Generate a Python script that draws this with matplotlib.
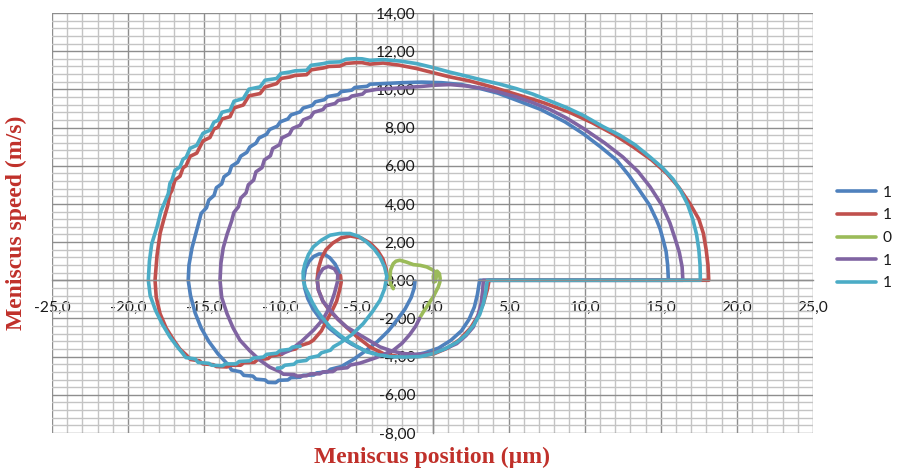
import matplotlib
matplotlib.use("Agg")
import matplotlib.pyplot as plt
from matplotlib.ticker import MultipleLocator, FuncFormatter

# ---- series: (meniscus position in µm, meniscus speed in m/s) ----
labels = ["1", "1", "0", "1", "1"]
colors = ["#4F81BD", "#C0504D", "#9BBB59", "#8064A2", "#4BACC6"]

blue_pts = [
    (-6.05, 0.0), (-6.15, 0.45), (-6.4, 0.85), (-6.75, 1.18), (-7.1, 1.36), (-7.45, 1.38),
    (-7.8, 1.25), (-8.1, 1.0), (-8.35, 0.6), (-8.45, 0.1), (-8.4, -0.4), (-8.2, -0.95),
    (-7.85, -1.5), (-7.4, -2.0), (-6.8, -2.5), (-6.1, -2.95), (-5.3, -3.35), (-4.4, -3.7),
    (-3.5, -3.9), (-2.5, -4.0), (-1.5, -3.97), (-0.5, -3.8), (0.4, -3.55), (1.2, -3.15),
    (1.9, -2.65), (2.4, -2.05), (2.75, -1.4), (2.95, -0.75), (3.05, -0.25), (3.1, 0.0),
    (15.5, 0.0), (15.45, 0.8), (15.35, 1.5), (15.16, 2.1), (14.95, 2.7), (14.73, 3.14),
    (14.25, 3.95), (13.6, 4.71), (12.9, 5.5), (12.1, 6.29), (11.1, 6.95), (9.9, 7.68),
    (8.7, 8.3), (7.1, 8.95), (5.53, 9.43), (4.3, 9.8), (3.1, 10.05), (1.9, 10.25),
    (0.6, 10.35), (-0.7, 10.38), (-2.0, 10.35), (-3.3, 10.3), (-4.1, 10.27), (-4.3, 10.16),
    (-5.1, 10.1), (-5.3, 9.96), (-6.0, 9.88), (-6.2, 9.72), (-6.9, 9.62), (-7.1, 9.46),
    (-7.7, 9.35), (-7.9, 9.16), (-8.5, 9.02), (-8.7, 8.82), (-9.3, 8.66), (-9.5, 8.45),
    (-10.0, 8.3), (-10.2, 8.07), (-10.7, 7.9), (-10.9, 7.65), (-11.4, 7.45), (-11.6, 7.18),
    (-12.0, 6.98), (-12.2, 6.7), (-12.6, 6.5), (-12.8, 6.18), (-13.2, 5.98), (-13.35, 5.62),
    (-13.7, 5.42), (-13.85, 5.05), (-14.2, 4.85), (-14.35, 4.45), (-14.7, 4.2), (-14.85, 3.8),
    (-15.2, 3.5), (-15.5, 2.6), (-15.8, 1.7), (-16.0, 0.8), (-16.05, 0.0), (-15.9, -0.8),
    (-15.6, -1.7), (-15.2, -2.5), (-14.7, -3.2), (-14.1, -3.85), (-13.4, -4.45), (-13.2, -4.7),
    (-12.6, -4.8), (-12.4, -4.98), (-11.8, -5.02), (-11.6, -5.18), (-11.0, -5.22),
    (-10.8, -5.35), (-10.3, -5.36), (-10.1, -5.24), (-9.5, -5.22), (-9.3, -5.1), (-8.7, -5.08),
    (-8.5, -4.98), (-7.8, -4.96), (-7.6, -4.85), (-6.9, -4.8), (-6.7, -4.66), (-6.0, -4.52),
    (-5.2, -4.15), (-4.4, -3.7), (-3.6, -3.2), (-2.9, -2.65), (-2.3, -2.05), (-1.8, -1.5),
    (-1.4, -0.9), (-1.2, -0.4), (-1.15, -0.05),
]

red_pts = [
    (-2.95, 0.1), (-3.05, 0.6), (-3.25, 1.1), (-3.6, 1.55), (-4.1, 1.95), (-4.7, 2.22),
    (-5.4, 2.32), (-6.0, 2.22), (-6.55, 1.95), (-7.0, 1.6), (-7.3, 1.15), (-7.5, 0.6),
    (-7.58, 0.05), (-7.5, -0.5), (-7.2, -1.1), (-6.75, -1.6), (-6.2, -2.05), (-5.6, -2.5),
    (-4.9, -3.0), (-4.1, -3.5), (-3.2, -3.85), (-2.2, -4.0), (-1.0, -4.0), (0.1, -3.85),
    (1.0, -3.55), (1.8, -3.1), (2.5, -2.5), (3.0, -1.85), (3.35, -1.2), (3.6, -0.5),
    (3.72, 0.0), (18.15, 0.0), (18.1, 0.8), (17.98, 1.6), (17.8, 2.45), (17.5, 3.2),
    (16.9, 4.03), (16.2, 4.85), (15.4, 5.59), (14.4, 6.3), (13.2, 6.98), (11.9, 7.65),
    (10.5, 8.25), (9.0, 8.8), (7.3, 9.3), (5.5, 9.74), (3.8, 10.15), (2.4, 10.45),
    (1.15, 10.65), (-0.1, 10.9), (-1.04, 11.09), (-2.2, 11.27), (-3.25, 11.38),
    (-4.11, 11.32), (-4.63, 11.4), (-4.98, 11.4), (-5.68, 11.36), (-6.08, 11.22),
    (-6.8, 11.2), (-7.17, 11.12), (-7.98, 11.02), (-8.27, 10.77), (-9.03, 10.73),
    (-9.36, 10.65), (-9.95, 10.57), (-10.24, 10.3), (-11.0, 10.12), (-11.33, 9.78),
    (-12.06, 9.66), (-12.43, 9.18), (-13.04, 9.03), (-13.3, 8.57), (-13.83, 8.45),
    (-14.09, 8.02), (-14.36, 7.92), (-14.62, 7.48), (-15.08, 7.3), (-15.49, 6.66),
    (-15.93, 6.49), (-16.19, 6.0), (-16.39, 5.89), (-16.59, 5.45), (-16.92, 5.25),
    (-17.12, 4.7), (-17.25, 4.52), (-17.4, 3.9), (-17.65, 3.2), (-17.9, 2.45), (-18.1, 1.3),
    (-18.23, 0.0), (-18.15, -0.9), (-17.9, -1.75), (-17.5, -2.5), (-17.0, -3.14),
    (-16.6, -3.6), (-16.15, -3.93), (-15.9, -4.15), (-15.3, -4.22), (-15.1, -4.38),
    (-14.4, -4.42), (-14.2, -4.52), (-13.5, -4.54), (-13.3, -4.45), (-12.6, -4.45),
    (-12.4, -4.32), (-11.7, -4.3), (-11.5, -4.16), (-10.8, -4.1), (-10.6, -3.96),
    (-9.9, -3.88), (-9.7, -3.72), (-9.0, -3.6), (-8.8, -3.45), (-8.1, -3.28), (-7.83, -3.14),
    (-7.3, -2.65), (-6.95, -2.1), (-6.6, -1.6), (-6.3, -1.1), (-6.1, -0.5), (-6.0, -0.1),
    (-6.05, 0.25),
]

green_pts = [
    (-0.82, -1.95), (-0.6, -1.65), (-0.38, -1.4), (-0.15, -1.1), (0.05, -0.87), (0.25, -0.55),
    (0.38, -0.35), (0.48, -0.1), (0.5, 0.1), (0.45, 0.35), (0.3, 0.48), (0.15, 0.42),
    (0.05, 0.2), (0.08, -0.1), (0.2, -0.05), (0.28, 0.35), (0.0, 0.55), (-0.38, 0.7),
    (-0.8, 0.78), (-1.26, 0.82), (-1.7, 0.95), (-2.14, 1.05), (-2.4, 1.0), (-2.58, 0.87),
    (-2.75, 0.55), (-2.8, 0.2), (-2.75, -0.2), (-2.58, -0.44),
]

purple_pts = [
    (-9.9, -3.85), (-9.36, -3.67), (-8.6, -3.2), (-7.8, -2.6), (-7.2, -2.05), (-6.75, -1.4),
    (-6.45, -0.7), (-6.25, -0.1), (-6.22, 0.3), (-6.45, 0.6), (-6.85, 0.73), (-7.2, 0.6),
    (-7.45, 0.3), (-7.57, 0.0), (-7.5, -0.5), (-7.2, -1.1), (-6.73, -1.57), (-6.2, -2.05),
    (-5.64, -2.45), (-4.55, -2.97), (-3.45, -3.49), (-2.7, -3.7), (-1.92, -3.84),
    (-1.0, -3.88), (-0.16, -3.84), (0.8, -3.6), (1.59, -3.32), (2.2, -2.9), (2.68, -2.45),
    (3.0, -1.8), (3.2, -1.2), (3.3, -0.5), (3.34, 0.0), (16.45, 0.0), (16.4, 0.7),
    (16.22, 1.45), (15.95, 2.15), (15.6, 3.0), (15.1, 3.9), (14.3, 4.89), (13.5, 5.7),
    (12.5, 6.46), (11.3, 7.2), (9.9, 7.96), (8.8, 8.5), (7.7, 8.95), (6.6, 9.3), (5.53, 9.6),
    (4.4, 9.85), (3.3, 10.05), (2.2, 10.18), (1.15, 10.25), (0.2, 10.22), (-0.8, 10.15),
    (-1.7, 10.1), (-2.6, 10.05), (-3.67, 10.0), (-4.4, 9.9), (-4.6, 9.75), (-5.3, 9.65),
    (-5.5, 9.52), (-6.2, 9.42), (-6.4, 9.26), (-7.0, 9.14), (-7.2, 8.94), (-7.8, 8.8),
    (-8.0, 8.56), (-8.5, 8.4), (-8.7, 8.12), (-9.2, 7.95), (-9.4, 7.65), (-9.9, 7.45),
    (-10.05, 7.1), (-10.5, 6.9), (-10.65, 6.52), (-11.05, 6.3), (-11.2, 5.9), (-11.6, 5.68),
    (-11.75, 5.25), (-12.1, 5.0), (-12.25, 4.58), (-12.6, 4.3), (-12.75, 3.85),
    (-13.05, 3.55), (-13.2, 3.1), (-13.5, 2.4), (-13.75, 1.7), (-13.9, 0.9), (-13.96, 0.0),
    (-13.85, -0.9), (-13.5, -1.75), (-13.1, -2.5), (-12.65, -3.14), (-12.0, -3.7),
    (-11.33, -4.19), (-10.7, -4.55), (-10.0, -4.8), (-9.8, -4.92), (-9.1, -4.94),
    (-8.9, -5.02), (-8.27, -5.0), (-8.0, -4.9), (-7.4, -4.9), (-7.2, -4.8), (-6.54, -4.78),
    (-6.3, -4.64), (-5.6, -4.58), (-5.4, -4.44), (-4.76, -4.34), (-3.7, -4.05),
    (-2.58, -3.67), (-2.0, -3.3), (-1.5, -2.85), (-1.1, -2.4), (-0.85, -2.0),
]

cyan_pts = [
    (-10.2, -4.6), (-9.9, -4.58), (-9.7, -4.45), (-9.1, -4.4), (-8.9, -4.26), (-8.3, -4.2),
    (-8.1, -4.06), (-7.5, -3.96), (-7.3, -3.8), (-6.7, -3.66), (-6.5, -3.48), (-6.1, -3.3),
    (-5.3, -2.85), (-4.55, -2.27), (-3.95, -1.65), (-3.45, -1.05), (-3.15, -0.45),
    (-3.0, 0.2), (-3.15, 0.7), (-3.45, 1.22), (-3.85, 1.65), (-4.32, 2.0), (-4.85, 2.3),
    (-5.42, 2.45), (-6.1, 2.45), (-6.73, 2.36), (-7.3, 2.1), (-7.83, 1.75), (-8.15, 1.35),
    (-8.38, 0.87), (-8.5, 0.45), (-8.49, 0.0), (-8.38, -0.35), (-8.16, -0.7), (-7.9, -1.15),
    (-7.6, -1.57), (-7.2, -2.0), (-6.73, -2.45), (-6.2, -2.8), (-5.64, -3.14), (-5.0, -3.45),
    (-4.32, -3.75), (-3.6, -3.9), (-2.79, -4.0), (-1.8, -4.02), (-0.82, -4.0), (0.0, -3.85),
    (0.8, -3.6), (1.6, -3.25), (2.2, -2.85), (2.7, -2.35), (3.1, -1.8), (3.35, -1.2),
    (3.5, -0.6), (3.6, 0.0), (17.6, 0.0), (17.58, 0.8), (17.5, 1.6), (17.35, 2.4),
    (17.1, 3.2), (16.75, 4.0), (16.3, 4.7), (15.8, 5.3), (15.1, 5.9), (14.3, 6.45),
    (13.3, 7.1), (12.3, 7.6), (11.2, 8.05), (9.9, 8.64), (8.8, 9.05), (7.7, 9.4), (6.6, 9.75),
    (5.5, 10.04), (4.4, 10.28), (3.3, 10.48), (2.2, 10.7), (1.15, 10.9), (0.0, 11.15),
    (-1.04, 11.35), (-2.1, 11.48), (-3.25, 11.56), (-4.11, 11.52), (-4.63, 11.6),
    (-4.98, 11.61), (-5.68, 11.58), (-6.08, 11.44), (-6.8, 11.42), (-7.17, 11.35),
    (-7.98, 11.26), (-8.27, 11.0), (-9.03, 10.97), (-9.36, 10.91), (-9.95, 10.84),
    (-10.24, 10.57), (-11.0, 10.48), (-11.33, 10.13), (-12.06, 10.01), (-12.43, 9.52),
    (-13.04, 9.38), (-13.3, 8.91), (-13.83, 8.8), (-14.09, 8.38), (-14.36, 8.28),
    (-14.62, 7.86), (-15.08, 7.7), (-15.49, 7.07), (-15.93, 6.91), (-16.19, 6.44),
    (-16.39, 6.34), (-16.59, 5.94), (-16.92, 5.76), (-17.12, 5.24), (-17.25, 5.08),
    (-17.36, 4.54), (-17.85, 3.6), (-18.1, 2.8), (-18.45, 1.9), (-18.6, 1.0), (-18.67, 0.0),
    (-18.55, -0.8), (-18.2, -1.57), (-17.75, -2.3), (-17.25, -2.97), (-16.8, -3.45),
    (-16.4, -3.84), (-16.2, -4.05), (-15.6, -4.12), (-15.4, -4.3), (-14.7, -4.35),
    (-14.5, -4.45), (-13.8, -4.48), (-13.6, -4.38), (-12.9, -4.38), (-12.7, -4.25),
    (-12.0, -4.22), (-11.8, -4.08), (-11.1, -4.02), (-10.9, -3.88), (-10.24, -3.82),
    (-10.0, -3.68), (-9.4, -3.62), (-9.2, -3.5), (-8.7, -3.46),
]

series_pts = [blue_pts, red_pts, green_pts, purple_pts, cyan_pts]

W, H = 898, 472
fig = plt.figure(figsize=(W / 100, H / 100), dpi=100)
ax = fig.add_axes([52 / W, (H - 433) / H, (813 - 52) / W, (433 - 13) / H])
ax.set_xlim(-25, 25)
ax.set_ylim(-8, 14)

ax.xaxis.set_major_locator(MultipleLocator(5))
ax.xaxis.set_minor_locator(MultipleLocator(1))
ax.yaxis.set_major_locator(MultipleLocator(2))
ax.yaxis.set_minor_locator(MultipleLocator(0.4))
ax.grid(which="minor", color="#c4c4c4", lw=1.0)
ax.grid(which="major", color="#8e8e8e", lw=1.0)
ax.set_axisbelow(True)

for side in ("top", "right"):
    ax.spines[side].set_visible(False)
ax.spines["left"].set_position(("data", 0))
ax.spines["bottom"].set_position(("data", 0))
for side in ("left", "bottom"):
    ax.spines[side].set_color("#8e8e8e")
    ax.spines[side].set_linewidth(1.0)

ax.xaxis.set_major_formatter(FuncFormatter(lambda v, p: f"{v:.1f}".replace(".", ",")))
ax.yaxis.set_major_formatter(FuncFormatter(lambda v, p: f"{v:.2f}".replace(".", ",")))
ax.tick_params(which="both", length=0)
ax.tick_params(axis="x", pad=15, labelsize=11.2, labelcolor="#1a1a1a")
ax.tick_params(axis="y", pad=12.5, labelsize=11.2, labelcolor="#1a1a1a")
for lab in ax.get_xticklabels() + ax.get_yticklabels():
    lab.set_fontfamily("Lato")

handles = []
for pts, c, lab in zip(series_pts, colors, labels):
    xs = [p[0] for p in pts]
    ys = [p[1] for p in pts]
    h, = ax.plot(xs, ys, color=c, lw=2.6, solid_capstyle="round",
                 solid_joinstyle="round", label=lab, clip_on=False)
    handles.append(h)

leg = fig.legend(handles, labels, loc="center left",
                 bbox_to_anchor=(837 / W, 1 - 238 / H), frameon=False,
                 borderpad=0, borderaxespad=0, handlelength=2.5,
                 handletextpad=0.45, labelspacing=0.56,
                 prop={"family": "Lato", "size": 11.2})
for t in leg.get_texts():
    t.set_color("#1a1a1a")

title_kw = dict(family="Liberation Serif", weight="bold", size=17, color="#C0302A")
fig.text(432 / W, 1 - 457 / H, "Meniscus position (µm)", ha="center", va="center", **title_kw)
fig.text(16 / W, 1 - 223 / H, "Meniscus speed (m/s)", ha="center", va="center",
         rotation=90, **title_kw)

fig.savefig("out.png", dpi=100)
